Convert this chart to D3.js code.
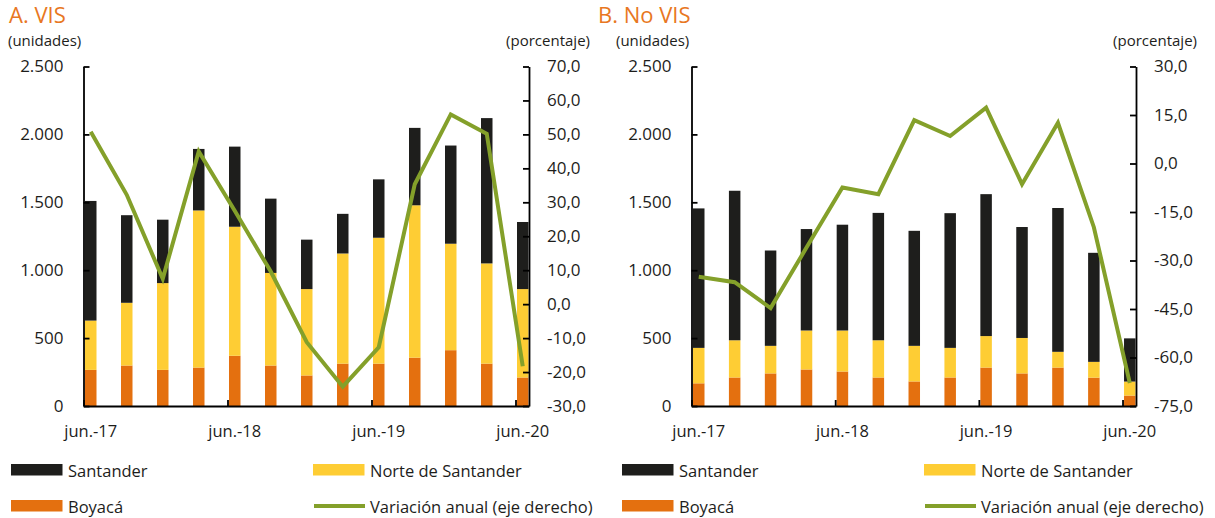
<!DOCTYPE html>
<html lang="es">
    <head>
        <meta charset="utf-8">
        <title>vis_novis</title>
        <script type="text/javascript" src="https://cdn.jsdelivr.net/npm/d3@7"></script>
        <style>
            body { margin: 0; background: #fff; }
            svg text { font-family: "Open Sans", sans-serif; fill: #1d1d1b; }
        </style>
    </head>

    <body>
        <script type="text/javascript">
        var w = 1215;
        var h = 518;

        // quarters, jun.-17 to jun.-20 (months from jun.-17)
        var months = [0, 3, 6, 9, 12, 15, 18, 21, 24, 27, 30, 33, 36];
        var tickLabels = ["jun.-17", "jun.-18", "jun.-19", "jun.-20"];
        var tickMonths = [0, 12, 24, 36];

        // A. VIS (unidades)
        var santanderA = [881, 645, 467, 453, 590, 547, 364, 292, 430, 570, 723, 1070, 494];
        var norteA     = [363, 462, 639, 1157, 950, 682, 636, 811, 927, 1122, 784, 738, 651];
        var boyacaA    = [266, 298, 266, 283, 370, 298, 225, 312, 312, 356, 411, 312, 210];
        var variacionA = [50.8, 32.2, 7.5, 45.0, 27.5, 9.6, -11.2, -24.3, -12.7, 35.3, 55.9, 50.2, -18.3];

        // B. No VIS (unidades)
        var santanderB = [1027, 1101, 702, 747, 779, 938, 847, 992, 1045, 817, 1059, 803, 318];
        var norteB     = [261, 274, 203, 287, 302, 274, 262, 218, 232, 261, 116, 116, 103];
        var boyacaB    = [167, 210, 240, 269, 254, 210, 181, 210, 283, 240, 283, 209, 77];
        var variacionB = [-35.0, -36.7, -44.7, -26.0, -7.4, -9.5, 13.4, 8.5, 17.3, -6.4, 12.6, -19.7, -67.9];

        var leftTicks = [0, 500, 1000, 1500, 2000, 2500];
        var rightTicksA = [-30, -20, -10, 0, 10, 20, 30, 40, 50, 60, 70];
        var rightTicksB = [-75, -60, -45, -30, -15, 0, 15, 30];

        var colors = {santander: "#1e1e1c", norte: "#fecd34", boyaca: "#e4700f", line: "#84a02a"};

        // spanish number format: 2.500 / 70,0
        var es = d3.formatLocale({decimal: ",", thousands: ".", grouping: [3], currency: ["", ""], minus: "-"});

        var svg = d3.select("body")
                    .append("svg")
                    .attr("width", w)
                    .attr("height", h);

        function drawPanel(p) {
            var top = 66.5, bottom = 406;

            var xScale = d3.scaleLinear()
                        .domain([0, 37.125])
                        .range([p.x0, p.x1]);
            var yScale = d3.scaleLinear()
                        .domain([0, 2500])
                        .range([bottom, top]);
            var y2Scale = d3.scaleLinear()
                        .domain(p.rightDomain)
                        .range([bottom, top]);

            var barW = 11.5;
            var off = 1.5;

            var rows = months.map(function(m, i){
                return {m: m, boyaca: p.boyaca[i], norte: p.norte[i], santander: p.santander[i], v: p.variacion[i]};
            });
            var stack = d3.stack().keys(["boyaca", "norte", "santander"])(rows);

            var g = svg.append("g");

            g.selectAll("g.layer")
                .data(stack)
                .enter()
                .append("g")
                .attr("class", "layer")
                .attr("fill", function(d){ return colors[d.key]; })
                .selectAll("rect")
                .data(function(d){ return d; })
                .enter()
                .append("rect")
                .attr("x", function(d){ return xScale(d.data.m) + off; })
                .attr("width", barW)
                .attr("y", function(d){ return yScale(d[1]); })
                .attr("height", function(d){ return yScale(d[0]) - yScale(d[1]); });

            // axes (ticks point inwards)
            var yAxis = d3.axisLeft(yScale)
                        .tickValues(leftTicks)
                        .tickFormat(es.format(",.0f"))
                        .tickSizeInner(-6)
                        .tickSizeOuter(0)
                        .tickPadding(20);
            var y2Axis = d3.axisRight(y2Scale)
                        .tickValues(p.rightTicks)
                        .tickFormat(es.format(",.1f"))
                        .tickSizeInner(-6)
                        .tickSizeOuter(0)
                        .tickPadding(18);
            var xAxis = d3.axisBottom(xScale)
                        .tickValues(tickMonths)
                        .tickFormat("")
                        .tickSizeInner(-6)
                        .tickSizeOuter(0);

            g.append("g")
                .attr("class", "axis")
                .attr("transform", "translate(0," + bottom + ")")
                .call(xAxis);
            g.append("g")
                .attr("class", "axis")
                .attr("transform", "translate(" + p.x0 + ",0)")
                .call(yAxis);
            g.append("g")
                .attr("class", "axis")
                .attr("transform", "translate(" + p.x1 + ",0)")
                .call(y2Axis);

            g.selectAll(".axis path, .axis line")
                .attr("stroke", "#000")
                .attr("stroke-width", 1.8);
            g.selectAll(".axis text")
                .attr("font-family", "Open Sans, sans-serif")
                .attr("font-size", 17)
                .attr("fill", "#1d1d1b");

            // x labels sit under the bar centres
            g.selectAll("text.xlab")
                .data(tickMonths)
                .enter()
                .append("text")
                .attr("class", "xlab")
                .attr("x", function(d){ return xScale(d) + off + barW / 2; })
                .attr("y", 437)
                .attr("text-anchor", "middle")
                .attr("font-size", 16.5)
                .text(function(d, i){ return tickLabels[i]; });

            // variación anual on the right axis
            var line = d3.line()
                        .x(function(d){ return xScale(d.m) + off + barW / 2; })
                        .y(function(d){ return y2Scale(d.v); });
            g.append("path")
                .datum(rows)
                .attr("fill", "none")
                .attr("stroke", colors.line)
                .attr("stroke-width", 4)
                .attr("d", line);

            // titles
            g.append("text")
                .attr("x", p.titleX)
                .attr("y", 23)
                .attr("font-size", 22)
                .style("fill", "#e87722")
                .text(p.title);
            g.append("text")
                .attr("x", p.x0 - 75.5)
                .attr("y", 46)
                .attr("font-size", 15)
                .text("(unidades)");
            g.append("text")
                .attr("x", p.x1 + 61)
                .attr("y", 46)
                .attr("font-size", 15)
                .attr("text-anchor", "end")
                .text("(porcentaje)");

            // legend
            var leg = svg.append("g").attr("transform", "translate(" + p.legX + ",0)");
            var items = [
                {label: "Santander", c: colors.santander, x: 0, y: 464, type: "rect"},
                {label: "Norte de Santander", c: colors.norte, x: 302, y: 464, type: "rect"},
                {label: "Boyacá", c: colors.boyaca, x: 0, y: 500, type: "rect"},
                {label: "Variación anual (eje derecho)", c: colors.line, x: 302, y: 500, type: "line"}
            ];
            items.forEach(function(d){
                if (d.type == "rect") {
                    leg.append("rect")
                        .attr("x", d.x)
                        .attr("y", d.y)
                        .attr("width", 51.5)
                        .attr("height", 11.5)
                        .attr("fill", d.c);
                } else {
                    leg.append("line")
                        .attr("x1", d.x + 1)
                        .attr("x2", d.x + 52)
                        .attr("y1", d.y + 6)
                        .attr("y2", d.y + 6)
                        .attr("stroke", d.c)
                        .attr("stroke-width", 4);
                }
                leg.append("text")
                    .attr("x", d.x + 57)
                    .attr("y", d.y + 13)
                    .attr("font-size", 16.5)
                    .text(d.label);
            });
        }

        drawPanel({
            title: "A. VIS", titleX: 9, x0: 83.5, x1: 529, legX: 11,
            santander: santanderA, norte: norteA, boyaca: boyacaA, variacion: variacionA,
            rightDomain: [-30, 70], rightTicks: rightTicksA
        });
        drawPanel({
            title: "B. No VIS", titleX: 598, x0: 691.5, x1: 1136, legX: 622,
            santander: santanderB, norte: norteB, boyaca: boyacaB, variacion: variacionB,
            rightDomain: [-75, 30], rightTicks: rightTicksB
        });
        </script>
    </body>
</html>
